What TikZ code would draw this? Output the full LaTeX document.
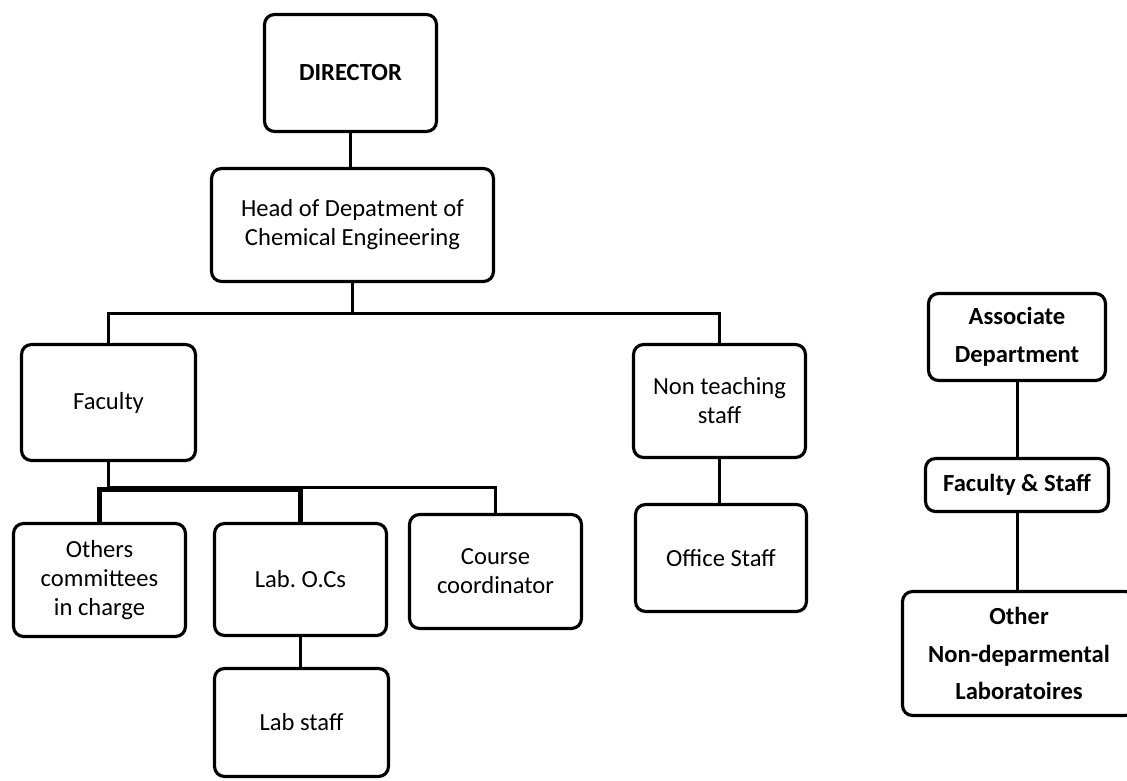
\documentclass[tikz,border=0pt]{standalone}
\usepackage{fontspec}
\setmainfont{Carlito}
\usetikzlibrary{calc}

\begin{document}
\begin{tikzpicture}[x=0.02cm,y=-0.02cm]
\useasboundingbox (0,0) rectangle (1127,781);
\begin{scope}[every node/.style={draw,line width=1.8pt,rounded corners=0.2cm,
                                 align=center,inner sep=0pt,
                                 font=\fontsize{14}{16.5}\selectfont},
              bold_text/.style={font=\fontsize{14}{21.5}\selectfont\bfseries}]
    \node[bold_text,minimum width=3.44cm,minimum height=2.34cm] (director) at (350.5, 73.0) {DIRECTOR};
    \node[minimum width=5.64cm,minimum height=2.26cm] (head) at (352.5, 225.0) {Head of Depatment of\\Chemical Engineering};
    \node[minimum width=3.48cm,minimum height=2.32cm] (faculty) at (108.5, 402.5) {Faculty};
    \node[minimum width=3.44cm,minimum height=2.26cm] (nonteach) at (719.5, 401.0) {Non teaching\\staff};
    \node[minimum width=3.44cm,minimum height=2.26cm] (others) at (99.5, 580.0) {Others\\committees\\in charge};
    \node[minimum width=3.44cm,minimum height=2.24cm] (labocs) at (300.5, 579.5) {Lab.\ O.Cs};
    \node[minimum width=3.44cm,minimum height=2.28cm] (course) at (495.5, 571.5) {Course\\coordinator};
    \node[minimum width=3.42cm,minimum height=2.14cm] (office) at (721.0, 558.0) {Office Staff};
    \node[minimum width=3.48cm,minimum height=2.16cm] (labstaff) at (301.5, 722.5) {Lab staff};
    \node[bold_text,minimum width=3.54cm,minimum height=1.74cm] (assoc) at (1017.0, 337.0) {Associate\\Department};
    \node[bold_text,minimum width=3.66cm,minimum height=1.06cm] (facstaff) at (1017.0, 485.0) {Faculty \& Staff};
    \node[bold_text,minimum width=4.66cm,minimum height=2.48cm] (other) at (1019.0, 653.5) {Other\\Non-deparmental\\Laboratoires};
\end{scope}
\begin{scope}[link_edge/.style={draw=black,line width=1.7pt},
              bar_edge/.style={draw=black,line width=2.8pt}]
    \path (head.south) ++(0, 30) coordinate (topbus);
    \draw [link_edge] (director.south) -- (director.south |- head.north);
    \draw [link_edge] (head.south) -- (topbus);
    \draw [link_edge] (faculty.north) |- (topbus) -| (nonteach.north);
    \draw [link_edge] (faculty.south) -- ++(0, 25) -| (course.north);
    \draw [bar_edge] (others.north) -- ++(0, -32) -| (labocs.north);
    \draw [link_edge] (labocs.south) -- (labocs.south |- labstaff.north);
    \draw [link_edge] (nonteach.south) -- (nonteach.south |- office.north);
    \draw [link_edge] (assoc.south) -- (facstaff.north);
    \draw [link_edge] (facstaff.south) -- (facstaff.south |- other.north);
\end{scope}
\end{tikzpicture}
\end{document}
